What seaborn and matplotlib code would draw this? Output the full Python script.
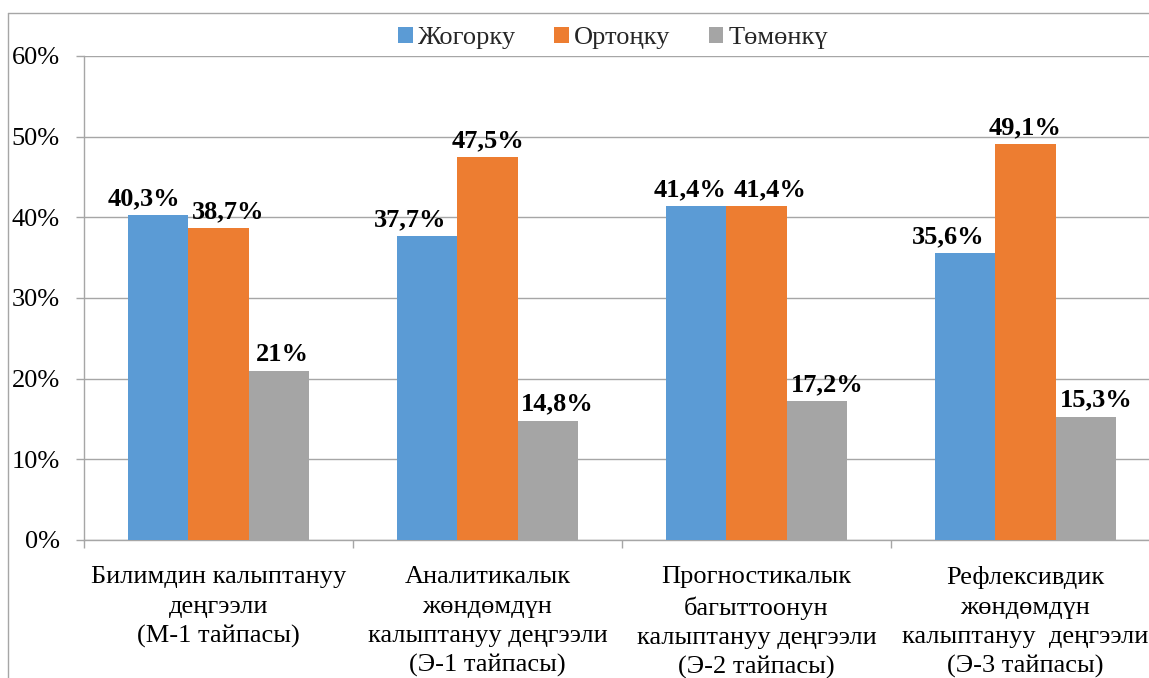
import matplotlib
matplotlib.use("Agg")
import matplotlib.pyplot as plt
from matplotlib.lines import Line2D
from matplotlib.patches import Patch
import pandas as pd
import seaborn as sns

# Data
categories = [
    "Билимдин калыптануу\nдеңгээли\n(М-1 тайпасы)",
    "Аналитикалык\nжөндөмдүн\nкалыптануу деңгээли\n(Э-1 тайпасы)",
    "Прогностикалык\nбагыттоонун\nкалыптануу деңгээли\n(Э-2 тайпасы)",
    "Рефлексивдик\nжөндөмдүн\nкалыптануу  деңгээли\n(Э-3 тайпасы)",
]
levels = ["Жогорку", "Ортоңку", "Төмөнкү"]
high = [40.3, 37.7, 41.4, 35.6]
mid = [38.7, 47.5, 41.4, 49.1]
low = [21.0, 14.8, 17.2, 15.3]
high_labels = ["40,3%", "37,7%", "41,4%", "35,6%"]
mid_labels = ["38,7%", "47,5%", "41,4%", "49,1%"]
low_labels = ["21%", "14,8%", "17,2%", "15,3%"]
yticks = [0, 10, 20, 30, 40, 50, 60]
ytick_labels = ["0%", "10%", "20%", "30%", "40%", "50%", "60%"]

colors = ["#5B9BD5", "#ED7D31", "#A5A5A5"]
line_gray = "#A6A6A6"

# horizontal nudges (pixels) for data labels, as placed in the original
nudges = [[-14, -17, -6, -17], [10, 0, 14, 0], [4, 10, 11, 11]]

df = pd.DataFrame({
    "category": categories * 3,
    "level": [levels[0]] * 4 + [levels[1]] * 4 + [levels[2]] * 4,
    "value": high + mid + low,
})

sns.set_theme(style="white")
plt.rcParams["font.family"] = ["Liberation Serif", "DejaVu Serif"]

W, H = 1149, 678
fig = plt.figure(figsize=(W / 100, H / 100), dpi=100)
ax = fig.add_axes([84 / W, 1 - 540 / H, (1160 - 84) / W, (540 - 56) / H])

sns.barplot(data=df, x="category", y="value", hue="level", hue_order=levels,
            palette=colors, width=0.67, saturation=1, ax=ax, legend=False,
            linewidth=0, zorder=3)

ax.set_xlim(-0.5, 3.5)
ax.set_ylim(0, 60)
ax.set_yticks(yticks)
ax.set_yticklabels(ytick_labels)
ax.set_xlabel("")
ax.set_ylabel("")

ax.yaxis.grid(True, color=line_gray, linewidth=1, zorder=0)
ax.set_axisbelow(True)
for side in ["top", "right"]:
    ax.spines[side].set_visible(False)
for side in ["left", "bottom"]:
    ax.spines[side].set_color(line_gray)
    ax.spines[side].set_linewidth(1)

ax.tick_params(axis="y", which="major", left=True, length=5.8, width=1,
               color=line_gray, pad=11.5, labelsize=19, labelcolor="black")
ax.tick_params(axis="x", which="major", length=0, pad=19, labelsize=19,
               labelcolor="black")
ax.set_xticks([-0.5, 0.5, 1.5, 2.5, 3.5], minor=True)
ax.tick_params(axis="x", which="minor", bottom=True, length=5.8, width=1,
               color=line_gray)
for lab in ax.get_xticklabels():
    lab.set_linespacing(1.42)
    lab.set_horizontalalignment("center")

# Data labels
all_labels = [high_labels, mid_labels, low_labels]
for i, cont in enumerate(ax.containers):
    for j, bar in enumerate(cont):
        xc = bar.get_x() + bar.get_width() / 2
        ax.annotate(all_labels[i][j], (xc, bar.get_height()),
                    xytext=(nudges[i][j] * 0.72, 7.2), textcoords="offset points",
                    ha="center", va="baseline", fontsize=19,
                    fontweight="bold", color="black", zorder=5)

# Legend
handles = [Patch(facecolor=c, edgecolor="none") for c in colors]
fig.legend(handles, levels, loc="center", bbox_to_anchor=(613 / W, 1 - 38 / H),
           ncol=3, frameon=False, fontsize=19, handlelength=0.55,
           handleheight=0.55, handletextpad=0.2, columnspacing=1.45)

# Outer chart border (cropped at right and bottom in the original)
fig.add_artist(Line2D([8 / W, 8 / W], [0, 1 - 13 / H], color=line_gray,
                      linewidth=1, transform=fig.transFigure))
fig.add_artist(Line2D([8 / W, 1], [1 - 13 / H, 1 - 13 / H], color=line_gray,
                      linewidth=1, transform=fig.transFigure))

fig.savefig("out.png", dpi=100)
